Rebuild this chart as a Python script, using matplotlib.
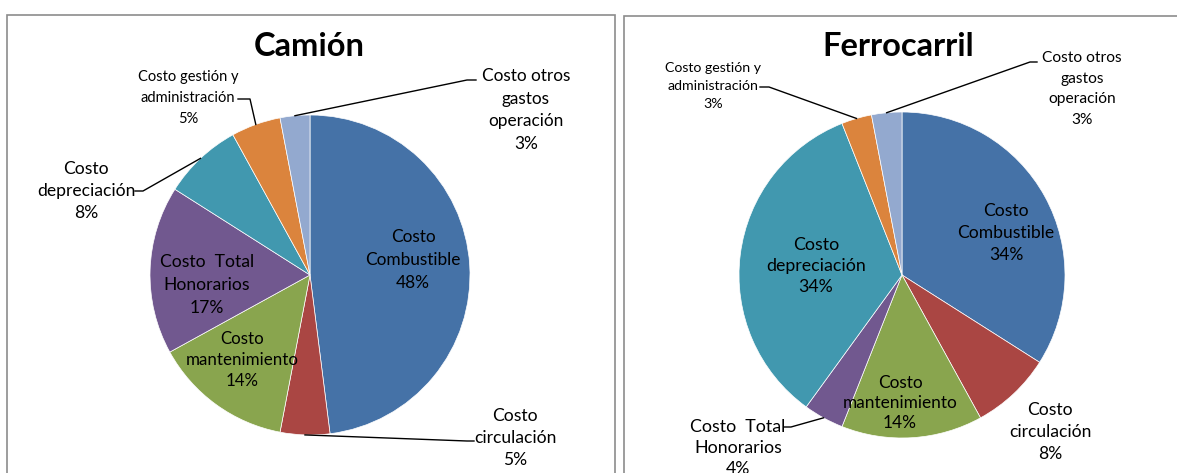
import numpy as np
import matplotlib
matplotlib.use("Agg")
import matplotlib.pyplot as plt
from matplotlib.patches import Rectangle

plt.rcParams['font.family'] = ['Lato', 'DejaVu Sans']

W, H = 1177, 473

# Data (percent of total cost)
categories = ["Costo\nCombustible", "Costo\ncirculación", "Costo\nmantenimiento",
              "Costo  Total\nHonorarios", "Costo\ndepreciación",
              "Costo gestión y\nadministración", "Costo otros\ngastos\noperación"]
camion = [48, 5, 14, 17, 8, 5, 3]
ferrocarril = [34, 8, 14, 4, 34, 3, 3]
colors = ["#4572A7", "#AA4643", "#89A54E", "#71588F", "#4198AF", "#DB843D", "#93A9CF"]

# layout in pixels (y from top); leader = text-side points, None = no line
charts = [
    dict(title="Camión", values=camion, center=(310, 275), radius=160, title_pos=(309, 47),
         label_pos=[(413, 260), (515, 438), (242, 360), (207, 285), (86, 191), (188, 98), (526, 110)],
         sizes=[12.4, 12.6, 12.2, 12.6, 12.6, 10.5, 12.4],
         gaps=[22, 22, 20, 22.5, 21.5, 20.5, 22],
         leader=[None, [(474, 441), (467, 441)], None, None, [(135, 191), (143, 191)],
                 [(238, 99), (250, 99)], [(476, 80), (467, 80)]]),
    dict(title="Ferrocarril", values=ferrocarril, center=(902, 275), radius=163, title_pos=(898, 47),
         label_pos=[(1006, 233), (1050, 432), (900, 403), (738, 448), (816, 266), (713, 86), (1082, 89)],
         sizes=[12.6, 12.6, 12.4, 12.8, 12.8, 10.2, 11.2],
         gaps=[21, 21, 19.5, 21, 21, 19, 21],
         leader=[None, None, None, [(784, 427), (791, 427)], None,
                 [(760, 87), (769, 87)], [(1037, 62), (1030, 62)]]),
]

fig = plt.figure(figsize=(W / 100, H / 100), dpi=100)
ax = fig.add_axes([0, 0, 1, 1])

# chart borders
ax.add_patch(Rectangle((7, -10), 608, H - 15 + 10, fill=False, edgecolor="#8c8c8c", lw=1.2))
ax.add_patch(Rectangle((624, -10), 600, H - 16 + 10, fill=False, edgecolor="#8c8c8c", lw=1.2))

for c in charts:
    cx, cy = c["center"][0], H - c["center"][1]
    r = c["radius"]
    wedges, _ = ax.pie(c["values"], colors=colors, startangle=90, counterclock=False,
                       center=(cx, cy), radius=r,
                       wedgeprops=dict(edgecolor="white", linewidth=0.5))
    ax.text(c["title_pos"][0], H - c["title_pos"][1], c["title"], ha="center", va="center",
            fontsize=23.5, fontweight="bold", color="black")
    for i, w in enumerate(wedges):
        lx, ly = c["label_pos"][i]
        size = c["sizes"][i]
        ax.text(lx, H - ly, f"{categories[i]}\n{c['values'][i]}%", ha="center", va="center",
                fontsize=size, color="black", linespacing=c["gaps"][i] / (size * 1.17))
        if c["leader"][i] is not None:
            ang = np.deg2rad((w.theta1 + w.theta2) / 2)
            px, py = cx + r * np.cos(ang), cy + r * np.sin(ang)
            pts = [(x, H - y) for x, y in c["leader"][i]] + [(px, py)]
            xs, ys = zip(*pts)
            ax.plot(xs, ys, color="black", lw=1)

ax.set_xlim(0, W)
ax.set_ylim(0, H)
ax.set_aspect("equal")
ax.axis("off")
fig.savefig("out.png", dpi=100)
